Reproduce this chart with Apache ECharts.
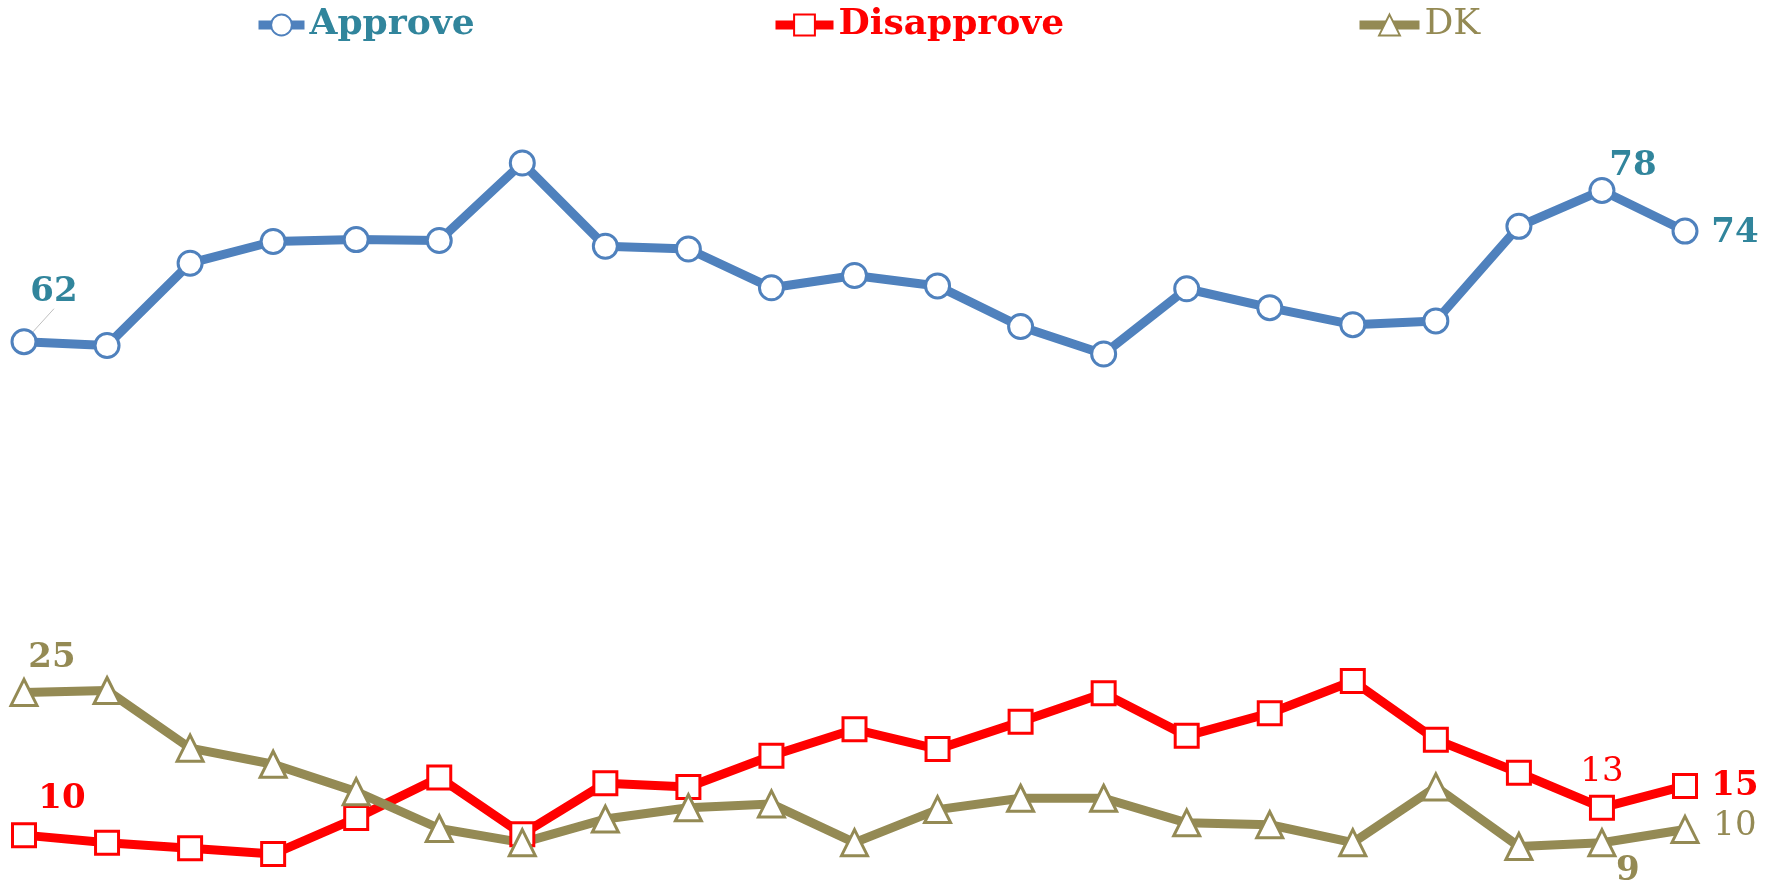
<!DOCTYPE html>
<html>
<head>
<meta charset="utf-8">
<script src="https://cdn.jsdelivr.net/npm/echarts@6/dist/echarts.min.js"></script>
<style>
html,body{margin:0;padding:0;background:#fff}
#chart{width:1779px;height:883px}
</style>
</head>
<body>
<div id="chart"></div>
<script>
// poll waves (no axis labels shown in the original)
var waves = ['1','2','3','4','5','6','7','8','9','10','11','12','13','14','15','16','17','18','19','20','21'];
var approve    = [62, 61.6, 70.3, 72.6, 72.8, 72.7, 80.9, 72.1, 71.8, 67.7, 69, 67.9, 63.6, 60.7, 67.6, 65.6, 63.8, 64.2, 74.2, 78, 73.7];
var disapprove = [9.8, 9, 8.4, 7.8, 11.6, 15.9, 9.9, 15.3, 14.9, 18.2, 21, 18.9, 21.8, 24.8, 20.3, 22.7, 26.1, 19.9, 16.4, 12.7, 15];
var dk         = [24.9, 25.1, 19, 17.3, 14.4, 10.5, 9, 11.5, 12.7, 13.1, 9, 12.5, 13.7, 13.7, 11.1, 10.9, 9, 14.9, 8.6, 9, 10.4];
// which points carry a value label
var approveLabels    = [0, 19, 20];
var disapproveLabels = [0, 19, 20];
var dkLabels         = [0, 19, 20];

var fontFam = 'DejaVu Serif';

function buildData(values, labelIdx, offsets, color, weights, leaders){
    return values.map(function(v, i){
        var k = labelIdx.indexOf(i);
        if(k < 0) return v;
        return {
            value: v,
            label: {
                show: true,
                position: 'inside',
                offset: offsets[k],
                color: color,
                fontFamily: fontFam,
                fontSize: 34,
                fontWeight: weights[k],
                formatter: function(p){ return Math.round(p.value); }
            },
            labelLine: {
                show: leaders[k],
                lineStyle: {color: '#bfbfbf', width: 1}
            }
        };
    });
}

var myChart = echarts.init(document.getElementById('chart'));

var legendText = {fontFamily: fontFam, fontSize: 36};

var option = {
    animation: false,
    legend: [
        {
            data: ['Approve'], left: 249, top: 2, itemWidth: 46, itemHeight: 26, itemGap: 2,
            lineStyle: {width: 9},
            textStyle: Object.assign({color: '#31859c', fontWeight: 'bold'}, legendText)
        },
        {
            data: ['Disapprove'], left: 766, top: 2, itemWidth: 58, itemHeight: 26, itemGap: 2,
            lineStyle: {width: 9},
            textStyle: Object.assign({color: '#ff0000', fontWeight: 'bold'}, legendText)
        },
        {
            data: ['DK'], left: 1350, top: 2, itemWidth: 60, itemHeight: 26, itemGap: 2,
            lineStyle: {width: 9},
            textStyle: Object.assign({color: '#948a54', fontWeight: 'normal'}, legendText)
        }
    ],
    grid: {
        left: 24,
        right: 94,
        top: 77,
        bottom: 2.5,
        containLabel: false
    },
    xAxis: {
        type: 'category',
        data: waves,
        boundaryGap: false,
        show: false
    },
    yAxis: {
        type: 'value',
        min: 5,
        max: 90,
        show: false,
        splitLine: {show: false}
    },
    series: [
        {
            name: 'Approve',
            type: 'line',
            symbol: 'circle',
            symbolSize: 24,
            lineStyle: {width: 9, color: '#4f81bd'},
            itemStyle: {color: '#fff', borderColor: '#4f81bd', borderWidth: 3},
            data: buildData(approve, approveLabels, [[30, -50], [31, -24], [50, 2]], '#31859c', ['bold', 'bold', 'bold'], [true, false, false])
        },
        {
            name: 'Disapprove',
            type: 'line',
            symbol: 'rect',
            symbolSize: 23,
            lineStyle: {width: 9, color: '#ff0000'},
            itemStyle: {color: '#fff', borderColor: '#ff0000', borderWidth: 3},
            data: buildData(disapprove, disapproveLabels, [[38, -36], [0, -36], [50, 0]], '#ff0000', ['bold', 'normal', 'bold'], [false, false, false])
        },
        {
            name: 'DK',
            type: 'line',
            symbol: 'triangle',
            symbolSize: 26,
            lineStyle: {width: 9, color: '#948a54'},
            itemStyle: {color: '#fff', borderColor: '#948a54', borderWidth: 3},
            data: buildData(dk, dkLabels, [[28, -34], [26, 28], [50, -3]], '#948a54', ['bold', 'bold', 'normal'], [false, false, false])
        }
    ]
};

myChart.setOption(option);
</script>
</body>
</html>
